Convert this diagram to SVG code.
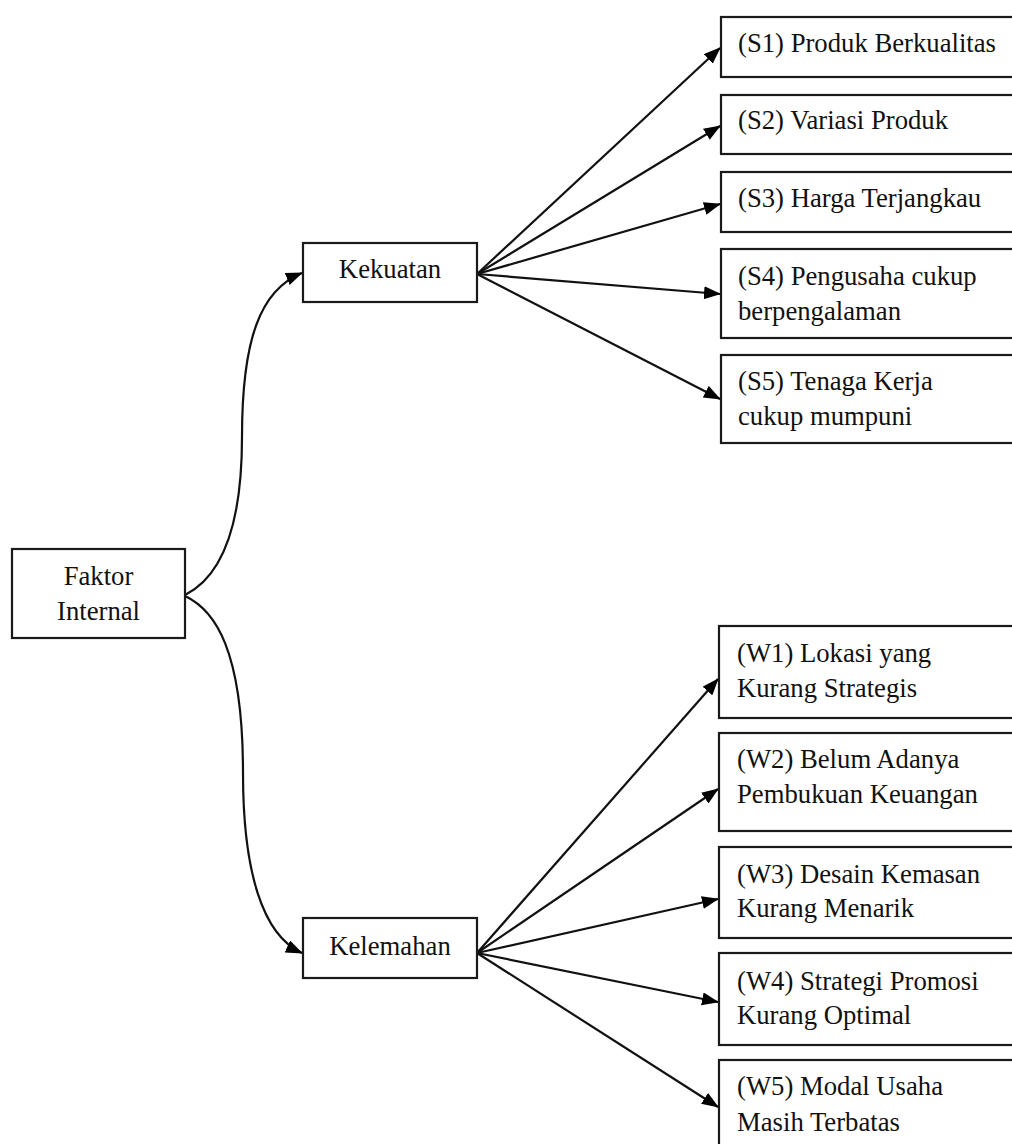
<svg xmlns="http://www.w3.org/2000/svg" width="1012" height="1144" viewBox="0 0 1012 1144">
<defs>
<marker id="arr" markerUnits="userSpaceOnUse" markerWidth="18" markerHeight="14" refX="16" refY="6.5" orient="auto">
<path d="M0,0 L17,6.5 L0,13 z" fill="#000"/>
</marker>
<style>
.box{fill:#fff;stroke:#1a1a1a;stroke-width:2.2}
.t{font-family:"Liberation Serif","Times New Roman",serif;font-size:26.7px;fill:#111}
.c{text-anchor:middle}
.e{fill:none;stroke:#111;stroke-width:2.2;marker-end:url(#arr)}
</style>
</defs>
<rect width="1012" height="1144" fill="#fff"/>
<g id="connectors">
<path class="e" d="M185,595 C215,580 242,540 242,437 C242,340 260,290 302,273"/>
<path class="e" d="M185,596 C215,610 243,650 243,773 C243,870 262,935 302,953"/>
<path class="e" d="M477,274 L720,48"/>
<path class="e" d="M477,274 L720,126"/>
<path class="e" d="M477,274 L720,204"/>
<path class="e" d="M477,274 L720,294"/>
<path class="e" d="M477,274 L720,399"/>
<path class="e" d="M477,953 L718,679"/>
<path class="e" d="M477,953 L718,789"/>
<path class="e" d="M477,953 L718,899"/>
<path class="e" d="M477,953 L718,1002"/>
<path class="e" d="M477,953 L718,1107"/>
</g>
<g id="faktor-internal">
<rect class="box" x="12" y="549" width="173" height="89"/>
<text class="t c" x="98.5" y="585">Faktor</text>
<text class="t c" x="98.5" y="620">Internal</text>
</g>
<g id="kekuatan">
<rect class="box" x="303" y="243" width="174" height="59"/>
<text class="t c" x="390" y="278">Kekuatan</text>
</g>
<g id="kelemahan">
<rect class="box" x="303" y="918" width="174" height="60"/>
<text class="t c" x="390" y="955">Kelemahan</text>
</g>
<g id="s1">
<rect class="box" x="721" y="17" width="300" height="60"/>
<text class="t" x="738" y="52">(S1) Produk Berkualitas</text>
</g>
<g id="s2">
<rect class="box" x="721" y="95" width="300" height="59"/>
<text class="t" x="738" y="129">(S2) Variasi Produk</text>
</g>
<g id="s3">
<rect class="box" x="721" y="172" width="300" height="60"/>
<text class="t" x="738" y="207">(S3) Harga Terjangkau</text>
</g>
<g id="s4">
<rect class="box" x="721" y="249" width="300" height="89"/>
<text class="t" x="738" y="285">(S4) Pengusaha cukup</text>
<text class="t" x="738" y="320">berpengalaman</text>
</g>
<g id="s5">
<rect class="box" x="721" y="355" width="300" height="88"/>
<text class="t" x="738" y="390">(S5) Tenaga Kerja</text>
<text class="t" x="738" y="425">cukup mumpuni</text>
</g>
<g id="w1">
<rect class="box" x="719" y="626" width="300" height="92"/>
<text class="t" x="737" y="662">(W1) Lokasi yang</text>
<text class="t" x="737" y="697">Kurang Strategis</text>
</g>
<g id="w2">
<rect class="box" x="719" y="733" width="300" height="98"/>
<text class="t" x="737" y="768">(W2) Belum Adanya</text>
<text class="t" x="737" y="803">Pembukuan Keuangan</text>
</g>
<g id="w3">
<rect class="box" x="719" y="847" width="300" height="91"/>
<text class="t" x="737" y="883">(W3) Desain Kemasan</text>
<text class="t" x="737" y="917">Kurang Menarik</text>
</g>
<g id="w4">
<rect class="box" x="719" y="953" width="300" height="92"/>
<text class="t" x="737" y="990">(W4) Strategi Promosi</text>
<text class="t" x="737" y="1024">Kurang Optimal</text>
</g>
<g id="w5">
<rect class="box" x="719" y="1060" width="300" height="100"/>
<text class="t" x="737" y="1095">(W5) Modal Usaha</text>
<text class="t" x="737" y="1131">Masih Terbatas</text>
</g>
</svg>
